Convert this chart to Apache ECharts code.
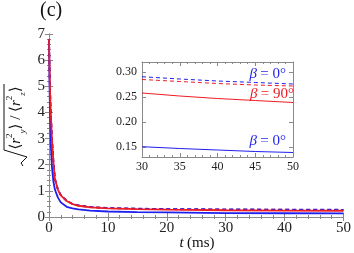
<!DOCTYPE html>
<html><head><meta charset="utf-8">
<script src="https://cdn.jsdelivr.net/npm/echarts@6/dist/echarts.min.js"></script>
<style>html,body{margin:0;padding:0;background:#fff}#c{width:354px;height:253px}</style>
</head><body><div id="c"></div>
<script>
// main plot data
const tMain = [0, 0.15, 0.3, 0.5, 0.75, 1, 1.5, 2, 3, 4, 5, 7, 10, 15, 20, 30, 40, 50];
const redSolid  = [6.8, 5.0, 4.0, 3.0, 2.1, 1.45, 1.05, 0.83, 0.61, 0.49, 0.43, 0.37, 0.33, 0.30, 0.28, 0.258, 0.247, 0.239];
const blueSolid = [6.7, 4.2, 2.8, 1.9, 1.35, 1.05, 0.75, 0.56, 0.39, 0.33, 0.29, 0.24, 0.21, 0.19, 0.175, 0.151, 0.144, 0.139];
const redDashed = [6.8, 5.0, 4.0, 3.0, 2.1, 1.46, 1.06, 0.84, 0.62, 0.50, 0.44, 0.38, 0.34, 0.315, 0.30, 0.285, 0.277, 0.272];
const blueDashed= [6.8, 5.0, 4.0, 3.0, 2.1, 1.46, 1.06, 0.84, 0.62, 0.50, 0.445, 0.385, 0.345, 0.32, 0.305, 0.2905, 0.282, 0.276];
// inset data
const tInset = [30, 35, 40, 45, 50];
const inBlueDashed = [0.2905, 0.286, 0.282, 0.279, 0.276];
const inRedDashed  = [0.285, 0.281, 0.277, 0.274, 0.272];
const inRedSolid   = [0.258, 0.252, 0.247, 0.243, 0.239];
const inBlueSolid  = [0.1506, 0.147, 0.144, 0.141, 0.139];
const insetYTicks = [0.15, 0.20, 0.25, 0.30];

const RED = '#ee1c24', BLUE = '#1f1fee';
const SERIF = '"Liberation Serif", "DejaVu Serif", serif';
const pair = (xs, ys) => xs.map((x, i) => [x, ys[i]]);
const frame = '#8a8a8a';

function ax(extra) {
  return Object.assign({
    type: 'value',
    axisLine: {show: true, lineStyle: {color: frame, width: 1}},
    axisTick: {show: true, inside: true, length: 4, lineStyle: {color: frame}},
    minorTick: {show: true, splitNumber: 5, length: 2, lineStyle: {color: frame}},
    splitLine: {show: false},
    axisLabel: {color: '#222', fontFamily: SERIF, fontSize: 15}
  }, extra);
}

const chart = echarts.init(document.getElementById('c'), null, {renderer: 'canvas'});
const mainLine = (d, c, dashed) => ({type: 'line', xAxisIndex: 0, yAxisIndex: 0, data: d, showSymbol: false,
  lineStyle: {color: c, width: 1.8, type: dashed ? [4, 3] : 'solid'}, z: dashed ? 1 : 2, silent: true, animation: false});
const insetLine = (d, c, dashed) => ({type: 'line', xAxisIndex: 2, yAxisIndex: 2, data: d, showSymbol: false,
  lineStyle: {color: c, width: 1, type: dashed ? [4, 3] : 'solid'}, z: 12, silent: true, animation: false, clip: true});
const beta = (txt, c) => ({
  text: '{i|β} {n|' + txt + '}', align: 'right', verticalAlign: 'middle',
  rich: {i: {fontFamily: SERIF, fontStyle: 'italic', fontSize: 15, fill: c}, n: {fontFamily: SERIF, fontSize: 15, fill: c}}});

chart.setOption({
  animation: false,
  backgroundColor: '#fff',
  grid: [
    {left: 49, top: 34, right: 9, bottom: 36, show: false},
    {left: 142, top: 62, width: 151, height: 95, show: true, backgroundColor: '#fff', borderWidth: 0, z: 10}
  ],
  xAxis: [
    ax({gridIndex: 0, min: 0, max: 50, interval: 10, axisLabel: {color: '#222', fontFamily: SERIF, fontSize: 15, margin: 4}}),
    ax({gridIndex: 0, position: 'top', min: 0, max: 50, interval: 10, axisLabel: {show: false}}),
    ax({gridIndex: 1, min: 30, max: 50, interval: 5, z: 11,
        axisLabel: {color: '#222', fontFamily: SERIF, fontSize: 12, margin: 4}}),
    ax({gridIndex: 1, position: 'top', min: 30, max: 50, interval: 5, z: 11, axisLabel: {show: false}})
  ],
  yAxis: [
    ax({gridIndex: 0, min: 0, max: 7, interval: 1, axisLabel: {color: '#222', fontFamily: SERIF, fontSize: 15, margin: 4}}),
    ax({gridIndex: 0, position: 'right', min: 0, max: 7, interval: 1, axisLabel: {show: false}}),
    ax({gridIndex: 1, min: 0.13, max: 0.32, z: 11,
        axisTick: {show: true, inside: true, length: 4, lineStyle: {color: frame}, customValues: insetYTicks},
        minorTick: {show: false},
        axisLabel: {color: '#222', fontFamily: SERIF, fontSize: 12, margin: 5, customValues: insetYTicks,
          formatter: v => v.toFixed(2)}}),
    ax({gridIndex: 1, position: 'right', min: 0.13, max: 0.32, z: 11,
        axisTick: {show: true, inside: true, length: 4, lineStyle: {color: frame}, customValues: insetYTicks},
        minorTick: {show: false}, axisLabel: {show: false}})
  ],
  series: [
    mainLine(pair(tMain, redDashed), RED, true),
    mainLine(pair(tMain, blueDashed), BLUE, true),
    mainLine(pair(tMain, blueSolid), BLUE, false),
    mainLine(pair(tMain, redSolid), RED, false),
    insetLine(pair(tInset, inBlueSolid), BLUE, false),
    insetLine(pair(tInset, inRedSolid), RED, false),
    insetLine(pair(tInset, inRedDashed), RED, true),
    insetLine(pair(tInset, inBlueDashed), BLUE, true)
  ],
  graphic: [
    {type: 'text', x: 40, y: 1, style: {text: '(c)', font: '20px ' + SERIF, fill: '#111'}},
    {type: 'text', x: 197, y: 243, z: 20, style: {
      text: '{i|t} {n|(ms)}', align: 'center', verticalAlign: 'middle',
      rich: {i: {fontFamily: SERIF, fontStyle: 'italic', fontSize: 15, fill: '#111'},
             n: {fontFamily: SERIF, fontSize: 15, fill: '#111'}}}},
    {type: 'text', x: 16, y: 118, rotation: Math.PI / 2, z: 20, style: {
      text: '{n|⟨}{i|r}{s|2}{b|y}{n|⟩ / ⟨}{i|r}{s|2}{b|z}{n|⟩}', align: 'center', verticalAlign: 'middle',
      rich: {n: {fontFamily: SERIF, fontSize: 15, fill: '#111', lineHeight: 22},
             i: {fontFamily: SERIF, fontStyle: 'italic', fontSize: 15, fill: '#111', lineHeight: 22},
             s: {fontFamily: SERIF, fontSize: 9, fill: '#111', verticalAlign: 'top', lineHeight: 12},
             b: {fontFamily: SERIF, fontStyle: 'italic', fontSize: 9, fill: '#111', verticalAlign: 'bottom', lineHeight: 12}}}},
    {type: 'line', z: 20, shape: {x1: 4, y1: 84, x2: 4, y2: 150}, style: {stroke: '#111', lineWidth: 1}},
    {type: 'polyline', z: 20, shape: {points: [[4, 150], [27, 157], [21, 163], [23, 166]]}, style: {stroke: '#111', lineWidth: 1, fill: null}},
    {type: 'text', x: 286, y: 74, z: 20, style: beta('= 0°', BLUE)},
    {type: 'text', x: 294, y: 94, z: 20, style: beta('= 90°', RED)},
    {type: 'text', x: 286, y: 141, z: 20, style: beta('= 0°', BLUE)}
  ]
});
</script></body></html>
